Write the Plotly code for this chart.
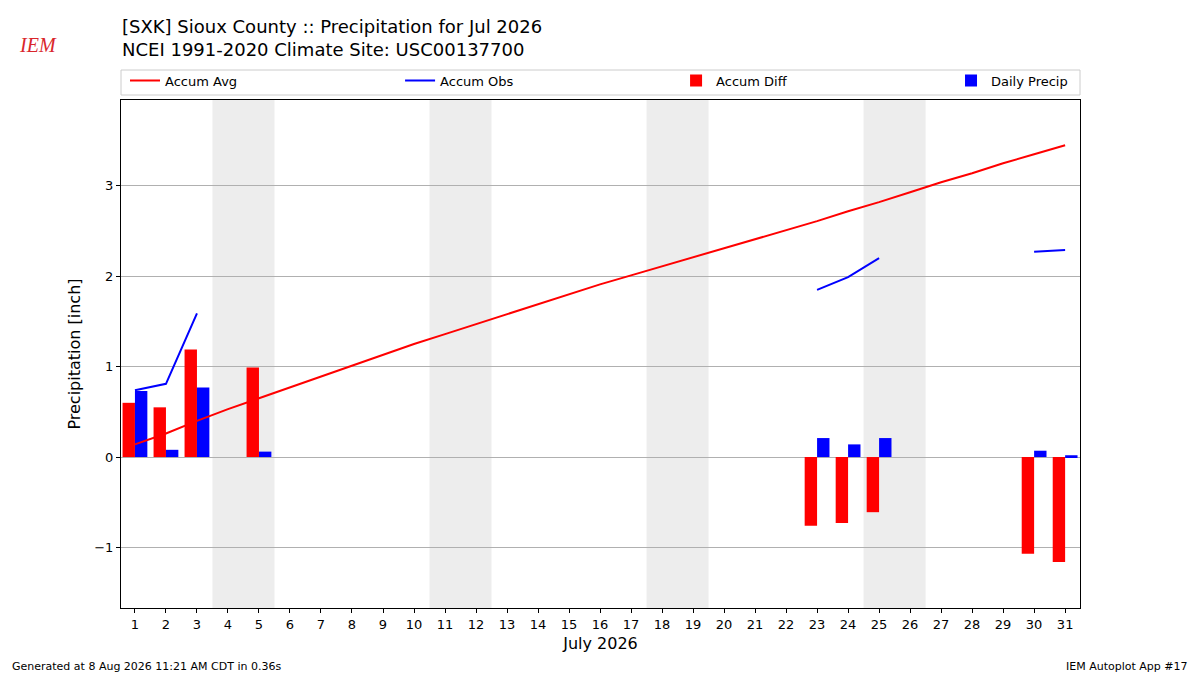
import pandas as pd
import plotly.graph_objects as go

# ──────────────────────────────────────────────
# Data
# ──────────────────────────────────────────────
days = list(range(1, 32))

accum_avg = [0.14, 0.26, 0.40, 0.53, 0.65, 0.77, 0.89, 1.01, 1.13, 1.25,
             1.36, 1.47, 1.58, 1.69, 1.80, 1.91, 2.01, 2.11, 2.21, 2.31,
             2.41, 2.51, 2.61, 2.72, 2.82, 2.93, 3.04, 3.14, 3.25, 3.35, 3.45]

# None = missing observation, so the line breaks
accum_obs = [0.74, 0.81, 1.59, None, 1.64, None, None, None, None, None,
             None, None, None, None, None, None, None, None, None, None,
             None, None, 1.85, 1.99, 2.20, None, None, None, None, 2.27, 2.29]

accum_diff = [0.60, 0.55, 1.19, None, 0.99, None, None, None, None, None,
              None, None, None, None, None, None, None, None, None, None,
              None, None, -0.76, -0.73, -0.61, None, None, None, None, -1.07, -1.16]

daily_precip = [0.73, 0.08, 0.77, None, 0.06, None, None, None, None, None,
                None, None, None, None, None, None, None, None, None, None,
                None, None, 0.21, 0.14, 0.21, None, None, None, None, 0.07, 0.02]

YEAR, MONTH = 2026, 7
TITLE = "[SXK] Sioux County :: Precipitation for Jul 2026<br>NCEI 1991-2020 Climate Site: USC00137700"
FOOTER_LEFT = "Generated at 8 Aug 2026 11:21 AM CDT in 0.36s"
FOOTER_RIGHT = "IEM Autoplot App #17"

FONT = "DejaVu Sans"
PLOT_W, PLOT_H = 959, 508  # axes size in px, used to place paper-coord text

# weekend days (Sat/Sun) for the background shading
dates = pd.date_range(f"{YEAR}-{MONTH:02d}-01", periods=len(days), freq="D")
weekend_sats = [d.day for d in dates if d.dayofweek == 5]

# ──────────────────────────────────────────────
# Figure
# ──────────────────────────────────────────────
fig = go.Figure()

fig.add_trace(go.Scatter(
    x=days, y=accum_avg, name="Accum Avg", mode="lines",
    line=dict(color="#ff0000", width=2), legend="legend",
))
fig.add_trace(go.Scatter(
    x=days, y=accum_obs, name="Accum Obs", mode="lines",
    line=dict(color="#0000ff", width=2), connectgaps=False, legend="legend2",
))
fig.add_trace(go.Bar(
    x=days, y=accum_diff, name="Accum Diff", marker=dict(color="#ff0000", line=dict(width=0)),
    legend="legend3",
))
fig.add_trace(go.Bar(
    x=days, y=daily_precip, name="Daily Precip", marker=dict(color="#0000ff", line=dict(width=0)),
    legend="legend4",
))

# weekend shading
for sat in weekend_sats:
    fig.add_vrect(x0=sat - 0.5, x1=sat + 1.5, fillcolor="#ededed", opacity=1,
                  line_width=0, layer="below")

# legend frame (matplotlib style, spanning the axes width)
fig.add_shape(type="rect", xref="paper", yref="paper", x0=0, x1=1,
              y0=1 + 5 / PLOT_H, y1=1 + 30 / PLOT_H, line=dict(color="#cccccc", width=1),
              fillcolor="rgba(255,255,255,0.8)", layer="above")

leg_common = dict(orientation="h", yanchor="middle", y=1 + 19.5 / PLOT_H, xanchor="left",
                  font=dict(family=FONT, size=13, color="#000000"),
                  bgcolor="rgba(0,0,0,0)", borderwidth=0, itemwidth=30)

fig.update_layout(
    width=1200, height=675,
    plot_bgcolor="white", paper_bgcolor="white",
    font=dict(family=FONT, size=13, color="#000000"),
    barmode="group", bargap=0.2, bargroupgap=0,
    margin=dict(l=121, r=120, t=100, b=67),
    showlegend=True,
    legend=dict(x=4 / PLOT_W, **leg_common),
    legend2=dict(x=0.291, **leg_common),
    legend3=dict(x=0.5788, **leg_common),
    legend4=dict(x=0.8655, **leg_common),
)

fig.update_xaxes(
    range=[0.55, 31.48], tickmode="array", tickvals=days, ticktext=[str(d) for d in days],
    ticks="outside", ticklen=4, tickcolor="#000000", showgrid=False, zeroline=False,
    showline=True, linecolor="#000000", linewidth=1, mirror=True,
    title=dict(text="July 2026", font=dict(family=FONT, size=16), standoff=7),
    tickfont=dict(family=FONT, size=13),
)
fig.update_yaxes(
    range=[-1.67, 3.95], tickmode="array", tickvals=[-1, 0, 1, 2, 3],
    ticks="outside", ticklen=4, tickcolor="#000000",
    showgrid=True, gridcolor="#b0b0b0", gridwidth=1, zeroline=False,
    showline=True, linecolor="#000000", linewidth=1, mirror=True,
    title=dict(text="Precipitation [inch]", font=dict(family=FONT, size=16), standoff=9),
    tickfont=dict(family=FONT, size=13),
)

# title (two lines, left aligned with the axes)
fig.add_annotation(text=TITLE, xref="paper", yref="paper", x=-1 / PLOT_W, y=1 + 86 / PLOT_H,
                   xanchor="left", yanchor="top", align="left", showarrow=False,
                   font=dict(family=FONT, size=18, color="#000000"))

# IEM logo stand-in
fig.add_annotation(text="<i>IEM</i>", xref="paper", yref="paper",
                   x=-83 / PLOT_W, y=1 + 55 / PLOT_H, xanchor="center", yanchor="middle",
                   showarrow=False, font=dict(family="Liberation Serif", size=20, color="#d9262b"))

# footer
fig.add_annotation(text=FOOTER_LEFT, xref="paper", yref="paper",
                   x=-111 / PLOT_W, y=-58 / PLOT_H, xanchor="left", yanchor="middle",
                   showarrow=False, font=dict(family=FONT, size=11))
fig.add_annotation(text=FOOTER_RIGHT, xref="paper", yref="paper",
                   x=1 + 110 / PLOT_W, y=-58 / PLOT_H, xanchor="right", yanchor="middle",
                   showarrow=False, font=dict(family=FONT, size=11))

fig.write_html("out.html", config={"displayModeBar": False},
               post_script="document.body.style.margin='0';document.body.style.overflow='hidden';")
